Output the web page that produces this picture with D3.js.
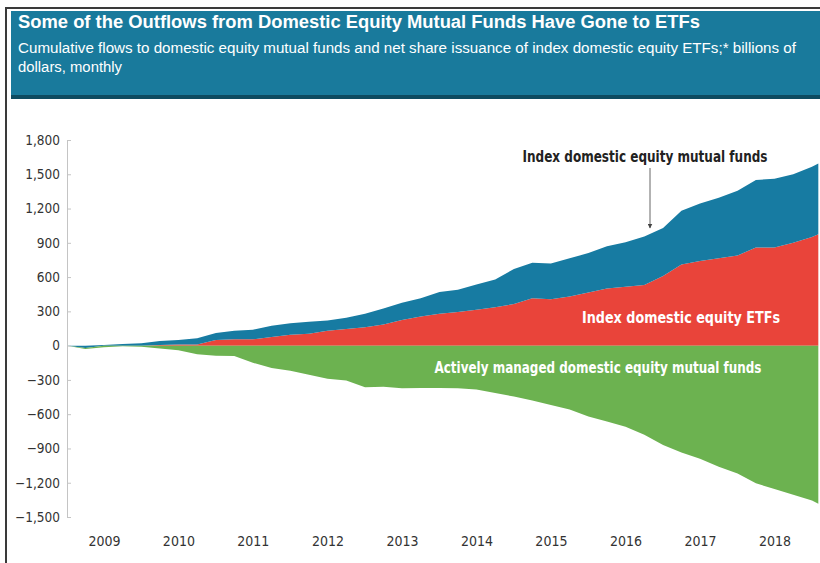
<!DOCTYPE html>
<html>
<head>
<meta charset="utf-8">
<script src="https://cdn.jsdelivr.net/npm/d3@7"></script>
<style>
  body { margin: 0; background: #fff; }
  svg { display: block; }
</style>
</head>
<body>
<svg id="chart" width="820" height="563"></svg>
<script>
// Kvartalsvise punkter, mia. dollars kumulativt
var dates = [
  "2009-01-01", "2009-04-01", "2009-07-01", "2009-10-01",
  "2010-01-01", "2010-04-01", "2010-07-01", "2010-10-01",
  "2011-01-01", "2011-04-01", "2011-07-01", "2011-10-01",
  "2012-01-01", "2012-04-01", "2012-07-01", "2012-10-01",
  "2013-01-01", "2013-04-01", "2013-07-01", "2013-10-01",
  "2014-01-01", "2014-04-01", "2014-07-01", "2014-10-01",
  "2015-01-01", "2015-04-01", "2015-07-01", "2015-10-01",
  "2016-01-01", "2016-04-01", "2016-07-01", "2016-10-01",
  "2017-01-01", "2017-04-01", "2017-07-01", "2017-10-01",
  "2018-01-01", "2018-04-01", "2018-07-01", "2018-10-01",
  "2019-01-01", "2019-02-01"
];

// Index domestic equity ETFs (rød)
var etfFlows = [
  0, 0, 0, 0, 0, 5, 10, 10,
  50, 55, 55, 75, 95, 105, 130, 145,
  160, 185, 225, 255, 280, 295, 315, 335,
  365, 415, 405, 430, 465, 500, 515, 530,
  610, 710, 740, 765, 790, 860, 860, 900,
  950, 975
];

// Index domestic equity mutual funds (blå, stablet oven på ETF)
var indexMfFlows = [
  0, -20, 5, 15, 20, 35, 40, 55,
  60, 75, 85, 100, 100, 105, 90, 100,
  120, 140, 150, 160, 190, 195, 220, 245,
  305, 310, 315, 335, 345, 370, 390, 425,
  420, 470, 505, 530, 565, 590, 600, 600,
  615, 620
];

// Actively managed domestic equity mutual funds (grøn)
var activeMfFlows = [
  0, -10, -15, -5, -10, -25, -40, -75,
  -88, -90, -150, -195, -220, -255, -290, -305,
  -365, -360, -372, -370, -370, -372, -385, -415,
  -445, -480, -520, -560, -620, -665, -710, -780,
  -870, -935, -990, -1060, -1120, -1205, -1255, -1305,
  -1355, -1385
];

var yTicks = [-1500, -1200, -900, -600, -300, 0, 300, 600, 900, 1200, 1500, 1800];
var yearLabels = ["2009", "2010", "2011", "2012", "2013", "2014", "2015", "2016", "2017", "2018"];

var seriesKeys = ["etf", "index", "active"];
var seriesColors = { etf: "#e9443a", index: "#177ba2", active: "#6cb250" };

var svg = d3.select("#chart");
var parseDate = d3.timeParse("%Y-%m-%d");
var labelFont = "'Liberation Sans Narrow', 'DejaVu Sans Condensed', 'Roboto', sans-serif";

// Ramme og overskrift
svg.append("path")
    .attr("d", "M6,563 V8 H820")
    .attr("fill", "none")
    .attr("stroke", "#3a3a3a")
    .attr("stroke-width", 2);

svg.append("rect")
    .attr("x", 11).attr("y", 11)
    .attr("width", 809).attr("height", 88)
    .attr("fill", "#197a9c");

svg.append("rect")
    .attr("x", 11).attr("y", 95)
    .attr("width", 809).attr("height", 4)
    .attr("fill", "#0d4b60");

svg.append("text")
    .attr("x", 18).attr("y", 28)
    .attr("textLength", 682)
    .attr("lengthAdjust", "spacingAndGlyphs")
    .attr("fill", "#fff")
    .style("font-family", "Arial, 'Liberation Sans', sans-serif")
    .style("font-size", "18px")
    .style("font-weight", "bold")
    .text("Some of the Outflows from Domestic Equity Mutual Funds Have Gone to ETFs");

var subtitle = svg.append("text")
    .attr("fill", "#fff")
    .style("font-family", "Arial, 'Liberation Sans', sans-serif")
    .style("font-size", "14px");
subtitle.append("tspan").attr("x", 18).attr("y", 53)
    .attr("textLength", 778)
    .attr("lengthAdjust", "spacingAndGlyphs")
    .text("Cumulative flows to domestic equity mutual funds and net share issuance of index domestic equity ETFs;* billions of");
subtitle.append("tspan").attr("x", 18).attr("y", 72)
    .attr("textLength", 104)
    .attr("lengthAdjust", "spacingAndGlyphs")
    .text("dollars, monthly");

// Skalaer
var x = d3.scaleTime()
    .domain([parseDate("2009-01-01"), parseDate("2019-01-01")])
    .range([67, 812]);

var y = d3.scaleLinear()
    .domain([-1500, 1800])
    .range([517, 140]);

// Data til stakken
var rows = dates.map(function(d, i) {
    return { date: parseDate(d), etf: etfFlows[i], index: indexMfFlows[i], active: activeMfFlows[i] };
});

var stacked = d3.stack()
    .keys(seriesKeys)
    .offset(d3.stackOffsetDiverging)(rows);

var area = d3.area()
    .x(function(d) { return x(d.data.date); })
    .y0(function(d) { return y(d[0]); })
    .y1(function(d) { return y(d[1]); })
    .curve(d3.curveLinear);

svg.append("g")
    .selectAll("path")
    .data(stacked)
    .enter().append("path")
        .attr("d", area)
        .attr("fill", function(d) { return seriesColors[d.key]; });

// Y-akse
var yAxis = svg.append("g")
    .attr("transform", "translate(67,0)")
    .call(d3.axisLeft(y)
        .tickValues(yTicks)
        .tickFormat(d3.format(","))
        .tickSize(-4)
        .tickSizeOuter(-4)
        .tickPadding(7));
yAxis.select(".domain").attr("stroke", "#c4c4c4");
yAxis.selectAll(".tick line").attr("stroke", "#c4c4c4");
yAxis.selectAll("text")
    .attr("fill", "#333")
    .style("font-family", labelFont)
    .style("font-size", "13.5px");

// X-akse (årstal midt i året)
var xAxis = svg.append("g")
    .attr("transform", "translate(0,532)")
    .call(d3.axisBottom(x)
        .tickValues(yearLabels.map(function(yr) { return parseDate(yr + "-07-01"); }))
        .tickFormat(d3.timeFormat("%Y"))
        .tickSize(0)
        .tickPadding(4));
xAxis.select(".domain").remove();
xAxis.selectAll("text")
    .attr("fill", "#333")
    .style("font-family", labelFont)
    .style("font-size", "14px");

// Etiketter
svg.append("defs").append("marker")
    .attr("id", "arrow")
    .attr("viewBox", "0 0 10 10")
    .attr("refX", 9).attr("refY", 5)
    .attr("markerWidth", 5).attr("markerHeight", 5)
    .attr("orient", "auto")
    .append("path")
        .attr("d", "M0,0 L10,5 L0,10 Z")
        .attr("fill", "#444");

svg.append("line")
    .attr("x1", 650).attr("y1", 168)
    .attr("x2", 650).attr("y2", 228)
    .attr("stroke", "#666")
    .attr("stroke-width", 1)
    .attr("marker-end", "url(#arrow)");

var annotations = [
    { text: "Index domestic equity mutual funds", x: 645, y: 162, w: 245, color: "#222" },
    { text: "Index domestic equity ETFs", x: 681, y: 323, w: 198, color: "#fff" },
    { text: "Actively managed domestic equity mutual funds", x: 598, y: 373, w: 327, color: "#fff" }
];

annotations.forEach(function(a) {
    svg.append("text")
        .attr("x", a.x - a.w / 2)
        .attr("y", a.y)
        .attr("textLength", a.w)
        .attr("lengthAdjust", "spacingAndGlyphs")
        .attr("fill", a.color)
        .style("font-family", labelFont)
        .style("font-size", "15.5px")
        .style("font-weight", "bold")
        .text(a.text);
});
</script>
</body>
</html>
